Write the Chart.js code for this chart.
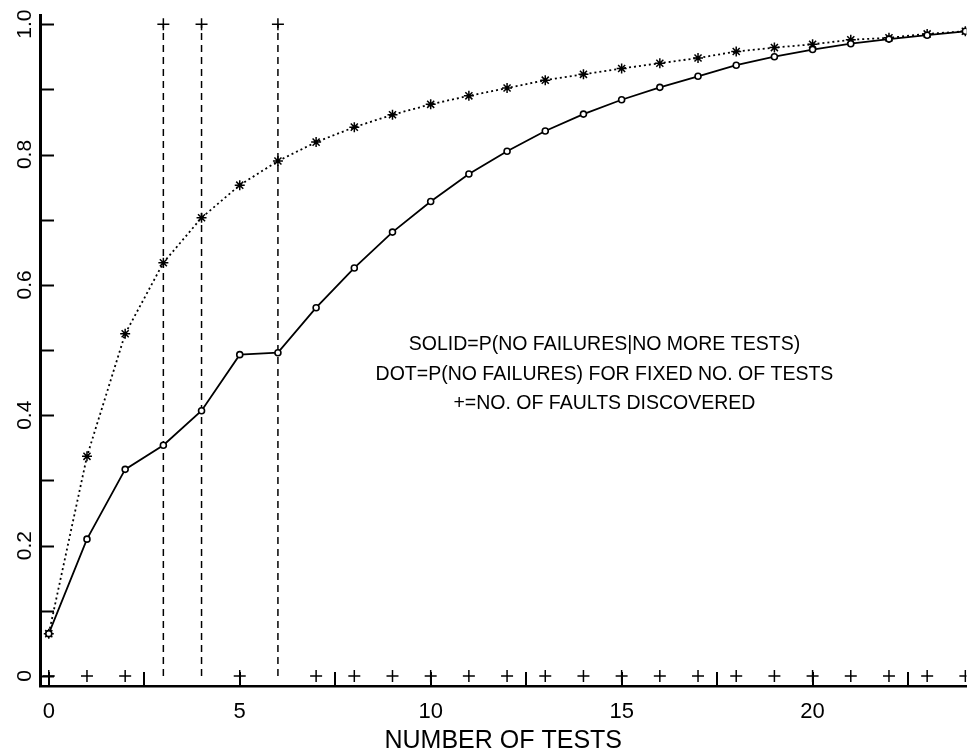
<!DOCTYPE html>
<html><head><meta charset="utf-8">
<script src="https://cdn.jsdelivr.net/npm/chart.js@4/dist/chart.umd.min.js"></script>
<style>html,body{margin:0;padding:0;background:#fff}#wrap{width:974px;height:756px;position:relative}</style>
</head><body><div id="wrap"><canvas id="c" width="974" height="756"></canvas></div>
<script>
// ---- data ----
const tests = [0,1,2,3,4,5,6,7,8,9,10,11,12,13,14,15,16,17,18,19,20,21,22,23,24];
const solidP = [0.065,0.210,0.317,0.354,0.407,0.493,0.496,0.565,0.626,0.681,0.728,0.770,0.805,0.836,0.862,0.884,0.903,0.920,0.937,0.950,0.961,0.970,0.977,0.983,0.989];
const dotP   = [0.065,0.337,0.525,0.634,0.703,0.753,0.790,0.819,0.842,0.861,0.877,0.890,0.902,0.914,0.923,0.932,0.940,0.948,0.958,0.964,0.969,0.976,0.979,0.985,0.989];
const faultTests = [3,4,6];          // tests at which a fault was discovered
const faultLevel = 1.0;              // "+" plotted at top when a fault is found
const noFaultLevel = 0.0;            // "+" plotted on the baseline otherwise
const xTickValues = [0,5,10,15,20];
const xMinorTicks = [2.5,7.5,12.5,17.5,22.5];
const yTickValues = [0,0.1,0.2,0.3,0.4,0.5,0.6,0.7,0.8,0.9,1.0];
const yTickLabels = ['0','','0.2','','0.4','','0.6','','0.8','','1.0'];
const noteLines = ['SOLID=P(NO FAILURES|NO MORE TESTS)','DOT=P(NO FAILURES) FOR FIXED NO. OF TESTS','+=NO. OF FAULTS DISCOVERED'];
const xTitle = 'NUMBER OF TESTS';

// ---- build datasets from the arrays ----
const solidData = tests.map((t,i)=>({x:t,y:solidP[i]}));
const dotData = tests.map((t,i)=>({x:t,y:dotP[i]}));
const baseCross = tests.filter(t=>!faultTests.includes(t)).map(t=>({x:t,y:noFaultLevel}));
const faultLines = [];
faultTests.forEach(t=>{ faultLines.push({x:t,y:noFaultLevel},{x:t,y:faultLevel},{x:t,y:null}); });

const FONT = '"Liberation Sans", Arial, sans-serif';

const decor = {
  id:'decor',
  afterDraw(chart){
    const {ctx, chartArea:a, scales:{x,y}} = chart;
    ctx.save();
    ctx.strokeStyle='#000'; ctx.lineWidth=2;
    const line=(x1,y1,x2,y2)=>{ctx.beginPath();ctx.moveTo(x1,y1);ctx.lineTo(x2,y2);ctx.stroke();};
    yTickValues.forEach(v=>{const py=Math.round(y.getPixelForValue(v))+0.5; line(a.left,py,a.left+14,py);});
    xTickValues.concat(xMinorTicks).forEach(v=>{const px=Math.round(x.getPixelForValue(v)); line(px,a.bottom,px,a.bottom-14);});
    ctx.fillStyle='#000';
    ctx.font='19.5px '+FONT;
    ctx.textAlign='center'; ctx.textBaseline='middle';
    const cx=x.getPixelForValue(14.55), cy=y.getPixelForValue(0.508);
    noteLines.forEach((t,i)=>ctx.fillText(t,cx,cy+i*29.5));
    ctx.restore();
  }
};

new Chart(document.getElementById('c'), {
  type:'line',
  data:{datasets:[
    {label:'solid', data:solidData, borderColor:'#000', borderWidth:1.8, tension:0,
     pointStyle:'circle', pointRadius:3, pointBorderWidth:1.6, pointBackgroundColor:'#fff', pointBorderColor:'#000'},
    {label:'dot', data:dotData, borderColor:'#000', borderWidth:1.8, borderDash:[2,3], tension:0,
     pointStyle:'star', pointRadius:5, pointBorderWidth:1.5, pointBorderColor:'#000', pointBackgroundColor:'#000'},
    {label:'faults', data:faultLines, borderColor:'#000', borderWidth:1.5, borderDash:[7,5], spanGaps:false,
     pointStyle:'cross', pointRadius:(c)=> (c.raw && c.raw.y===faultLevel) ? 6 : 0, pointBorderWidth:1.5, pointBorderColor:'#000'},
    {label:'nofault', data:baseCross, showLine:false,
     pointStyle:'cross', pointRadius:6, pointBorderWidth:1.5, pointBorderColor:'#000'}
  ]},
  options:{
    responsive:false, animation:false, devicePixelRatio:1,
    layout:{padding:{top:15,right:0,left:0,bottom:0}},
    plugins:{legend:{display:false}, tooltip:{enabled:false}},
    scales:{
      x:{type:'linear', min:-0.23, max:24.03,
         afterBuildTicks:(s)=>{s.ticks=xTickValues.map(v=>({value:v}));},
         afterFit:(s)=>{s.height=70;},
         grid:{display:true, drawOnChartArea:false, drawTicks:false},
         border:{display:true, color:'#000', width:2.5},
         ticks:{color:'#000', font:{family:FONT, size:22}, padding:13, maxRotation:0, autoSkip:false,
                callback:(v)=>String(v)},
         title:{display:true, text:xTitle, color:'#000', font:{family:FONT, size:25}, padding:{top:0,bottom:0}}
      },
      y:{type:'linear', min:-0.0153, max:1.014,
         afterBuildTicks:(s)=>{s.ticks=yTickValues.map(v=>({value:v}));},
         afterFit:(s)=>{s.width=40;},
         grid:{display:true, drawOnChartArea:false, drawTicks:false},
         border:{display:true, color:'#000', width:3},
         ticks:{color:'#000', font:{family:FONT, size:21}, padding:0, minRotation:90, maxRotation:90,
                crossAlign:'center', autoSkip:false,
                callback:(v,i)=>yTickLabels[i]}
      }
    }
  },
  plugins:[decor]
});
</script></body></html>
